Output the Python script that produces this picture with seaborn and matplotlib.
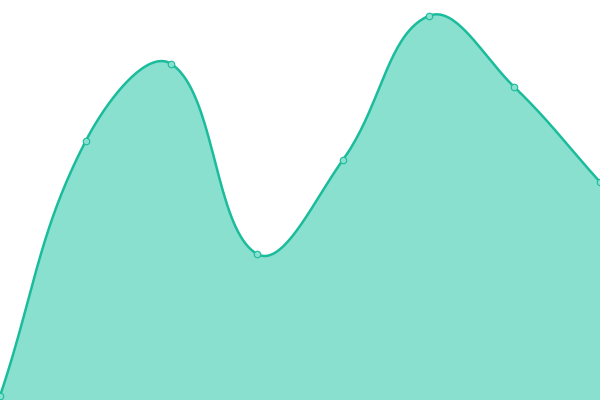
import numpy as np
import pandas as pd
import matplotlib
matplotlib.use("Agg")
import matplotlib.pyplot as plt
import seaborn as sns

# datos
x_vals = [0, 1, 2, 3, 4, 5, 6, 7]
y_vals = [1, 64.75, 84, 36.5, 60, 96, 78.25, 54.5]

line_color = "#1abc9c"
fill_color = "#8ae0cf"

# escala aproximada en pixeles (para la suavidad de la curva)
sx_px = 600 / 7
sy_px = 4.0

# curva bezier con tension 0.4 (estilo chart.js)
def spline(xs, ys, tension=0.4, n=40):
    px = np.array(xs, dtype=float) * sx_px
    py = np.array(ys, dtype=float) * sy_px
    k = len(px)
    prev_cp, next_cp = [], []
    for i in range(k):
        a = max(i - 1, 0)
        c = min(i + 1, k - 1)
        d01 = np.hypot(px[i] - px[a], py[i] - py[a])
        d12 = np.hypot(px[c] - px[i], py[c] - py[i])
        s01 = d01 / (d01 + d12)
        s12 = d12 / (d01 + d12)
        fa = tension * s01
        fb = tension * s12
        prev_cp.append((px[i] - fa * (px[c] - px[a]), py[i] - fa * (py[c] - py[a])))
        next_cp.append((px[i] + fb * (px[c] - px[a]), py[i] + fb * (py[c] - py[a])))
    out_x, out_y = [], []
    for i in range(k - 1):
        t = np.linspace(0, 1, n, endpoint=(i == k - 2))
        b0 = (1 - t) ** 3
        b1 = 3 * (1 - t) ** 2 * t
        b2 = 3 * (1 - t) * t ** 2
        b3 = t ** 3
        out_x.extend(b0 * px[i] + b1 * next_cp[i][0] + b2 * prev_cp[i + 1][0] + b3 * px[i + 1])
        out_y.extend(b0 * py[i] + b1 * next_cp[i][1] + b2 * prev_cp[i + 1][1] + b3 * py[i + 1])
    return np.array(out_x) / sx_px, np.array(out_y) / sy_px

cx, cy = spline(x_vals, y_vals)
smooth = pd.DataFrame({"x": cx, "y": cy})
pts = pd.DataFrame({"x": x_vals, "y": y_vals})

fig = plt.figure(figsize=(6, 4), dpi=100)
ax = fig.add_axes([0, 0, 1, 1])

ax.fill_between(smooth["x"], smooth["y"], 0, color=fill_color, lw=0)
sns.lineplot(data=smooth, x="x", y="y", ax=ax, color=line_color, lw=1.8, sort=False)
sns.scatterplot(data=pts, x="x", y="y", ax=ax, s=22, color=fill_color,
                edgecolor=line_color, linewidth=0.8, zorder=5, clip_on=False)

ax.set_xlim(0, 7)
ax.set_ylim(0, 100)
ax.axis("off")

fig.savefig("out.png", dpi=100)
